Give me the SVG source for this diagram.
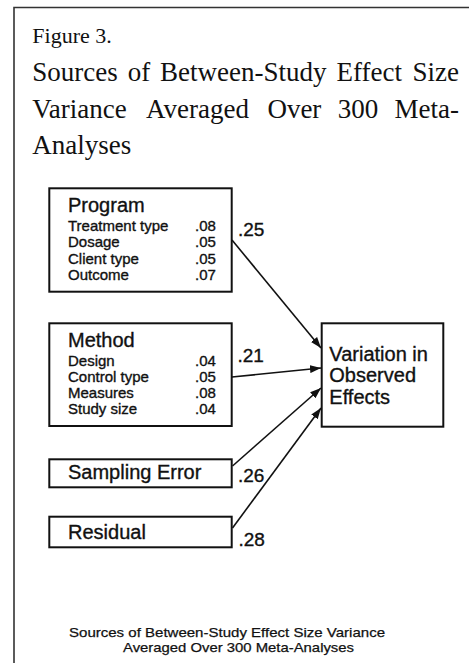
<svg xmlns="http://www.w3.org/2000/svg" width="469" height="663" viewBox="0 0 469 663">
<style>
.serif{font-family:"Liberation Serif","Times New Roman",serif;fill:#111}
.sans{font-family:"Liberation Sans",Arial,sans-serif;fill:#111;stroke:#111;stroke-width:0.35}
.box{fill:#fff;stroke:#111;stroke-width:2}
.head{font-size:20px}
.item{font-size:15px}
.lbl{font-size:19px}
.conn{stroke:#111;stroke-width:1.6;fill:none;marker-end:url(#arr)}
</style>
<defs>
<marker id="arr" markerUnits="userSpaceOnUse" markerWidth="12" markerHeight="8" refX="11" refY="4" orient="auto">
<path d="M0,0 L11,4 L0,8 z" fill="#111"/>
</marker>
</defs>
<rect width="469" height="663" fill="#fff"/>
<path d="M14,663 V7.5 H469" fill="none" stroke="#333" stroke-width="1.6"/>
<g id="title" class="serif">
<text x="32.3" y="43" font-size="22">Figure 3.</text>
<text y="81" font-size="27"><tspan x="32.3">Sources</tspan><tspan x="127.7">of</tspan><tspan x="160">Between-Study</tspan><tspan x="336.5">Effect</tspan><tspan x="412.4">Size</tspan></text>
<text y="118" font-size="27"><tspan x="32.3">Variance</tspan><tspan x="146.1">Averaged</tspan><tspan x="267.4">Over</tspan><tspan x="337.7">300</tspan><tspan x="394.6">Meta-</tspan></text>
<text x="32.3" y="154" font-size="27">Analyses</text>
</g>
<g id="connectors">
<line class="conn" x1="232" y1="240" x2="321" y2="348"/>
<line class="conn" x1="232" y1="377" x2="321" y2="368"/>
<line class="conn" x1="232.5" y1="466" x2="321" y2="388"/>
<line class="conn" x1="232.5" y1="528" x2="321" y2="408"/>
</g>
<g id="program">
<rect class="box" x="49.3" y="188.3" width="182.4" height="103.4"/>
<text class="sans head" x="68" y="212">Program</text>
<text class="sans item" x="68" y="231">Treatment type</text>
<text class="sans item" x="68" y="247">Dosage</text>
<text class="sans item" x="68" y="263.5">Client type</text>
<text class="sans item" x="68" y="279.5">Outcome</text>
<text class="sans item" x="195" y="231">.08</text>
<text class="sans item" x="195" y="247">.05</text>
<text class="sans item" x="195" y="263.5">.05</text>
<text class="sans item" x="195" y="279.5">.07</text>
</g>
<g id="method">
<rect class="box" x="49.3" y="323.3" width="182.4" height="102.7"/>
<text class="sans head" x="68" y="347">Method</text>
<text class="sans item" x="68" y="366">Design</text>
<text class="sans item" x="68" y="382">Control type</text>
<text class="sans item" x="68" y="398">Measures</text>
<text class="sans item" x="68" y="414">Study size</text>
<text class="sans item" x="195" y="366">.04</text>
<text class="sans item" x="195" y="382">.05</text>
<text class="sans item" x="195" y="398">.08</text>
<text class="sans item" x="195" y="414">.04</text>
</g>
<g id="sampling">
<rect class="box" x="49.3" y="459.3" width="182.4" height="28"/>
<text class="sans head" x="68" y="478.5">Sampling Error</text>
</g>
<g id="residual">
<rect class="box" x="49.3" y="516.7" width="182.4" height="30.6"/>
<text class="sans head" x="68" y="538.5">Residual</text>
</g>
<g id="variation">
<rect class="box" x="321.7" y="323.3" width="121.6" height="103.4"/>
<text class="sans head" x="329.3" y="361">Variation in</text>
<text class="sans head" x="329.3" y="382">Observed</text>
<text class="sans head" x="329.3" y="404">Effects</text>
</g>
<g id="labels" class="sans lbl">
<text x="238" y="236">.25</text>
<text x="237.5" y="362">.21</text>
<text x="238" y="482">.26</text>
<text x="238.5" y="545.5">.28</text>
</g>
<g id="caption" class="sans" font-size="13.5" style="stroke-width:0.25">
<text x="69" y="637" textLength="316" lengthAdjust="spacingAndGlyphs">Sources of Between-Study Effect Size Variance</text>
<text x="123" y="652" textLength="231" lengthAdjust="spacingAndGlyphs">Averaged Over 300 Meta-Analyses</text>
</g>
</svg>
